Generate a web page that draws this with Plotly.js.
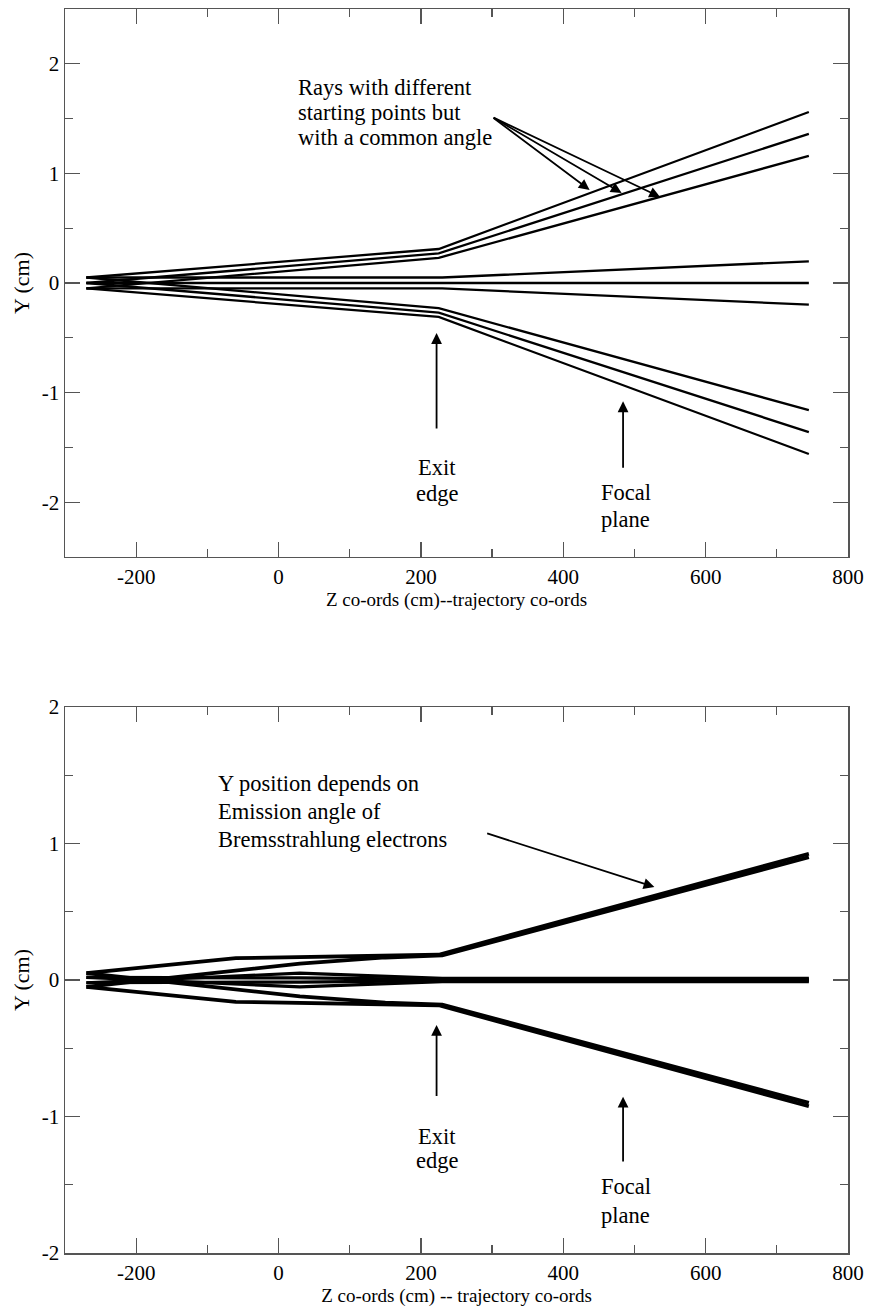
<!DOCTYPE html>
<html>
<head>
<meta charset="utf-8">
<script src="https://cdn.plot.ly/plotly-3.0.1.min.js"></script>
<style>html,body{margin:0;padding:0;background:#fff;}#chart{width:869px;height:1309px;}</style>
</head>
<body>
<div id="chart"></div>
<script>
// ---------- data ----------
// Top panel: three groups of rays (common angle, different starting points)
var zBend = [-270, 0, 225, 745];
var topUp1 = [0.05, 0.193, 0.31, 1.56];
var topUp2 = [0.0, 0.149, 0.27, 1.36];
var topUp3 = [-0.05, 0.104, 0.23, 1.16];
var topLo1 = [-0.05, -0.193, -0.31, -1.56];
var topLo2 = [0.0, -0.149, -0.27, -1.36];
var topLo3 = [0.05, -0.104, -0.23, -1.16];
var zMid = [-270, 230, 745];
var topMid1 = [0.05, 0.05, 0.198];
var topMid2 = [0.0, 0.0, 0.0];
var topMid3 = [-0.05, -0.05, -0.198];

// Bottom panel: rays with different emission angles
var zOuter = [-270, -60, 225, 745];
var botUpA = [0.05, 0.16, 0.185, 0.925];
var botLoA = [-0.05, -0.16, -0.185, -0.925];
var zInner = [-270, 30, 150, 230, 745];
var botUpB = [-0.05, 0.12, 0.165, 0.18, 0.9];
var botLoB = [0.05, -0.12, -0.165, -0.18, -0.9];
var zCore = [-270, 30, 230, 745];
var botMidA = [-0.02, 0.05, 0.012, 0.012];
var botMidB = [0.02, 0.015, 0.004, 0.004];
var botMidC = [-0.02, -0.015, -0.004, -0.004];
var botMidD = [0.02, -0.05, -0.012, -0.012];

// ticks
var xTickVals = [-200, 0, 200, 400, 600, 800];
var xTickText = ['-200', '0', '200', '400', '600', '800'];
var xMinorVals = [-300, -100, 100, 300, 500, 700];
var yTopTickVals = [-2, -1, 0, 1, 2];
var yTopTickText = ['-2', '-1', '0', '1', '2'];
var yTopMinorVals = [-1.5, -0.5, 0.5, 1.5];
var yBotTickVals = [-2, -1, 0, 1, 2];
var yBotTickText = ['-2', '-1', '0', '1', '2'];
var yBotMinorVals = [-1.5, -0.5, 0.5, 1.5];

// annotation texts
var topNoteLines = ['Rays with different', 'starting points but', 'with a common angle'];
var botNoteLines = ['Y position depends on', 'Emission angle of', 'Bremsstrahlung electrons'];
var exitLines = ['Exit', 'edge'];
var focalLines = ['Focal', 'plane'];

// ---------- figure ----------
var FONT = 'Liberation Serif, Times New Roman, serif';
var traces = [];
function ray(z, y, ax, w) {
  traces.push({x: z, y: y, xaxis: ax === 1 ? 'x' : 'x2', yaxis: ax === 1 ? 'y' : 'y2',
    mode: 'lines', line: {color: '#000', width: w}, hoverinfo: 'skip', showlegend: false});
}
[topUp1, topUp2, topUp3, topLo1, topLo2, topLo3].forEach(function (y) { ray(zBend, y, 1, 2.3); });
[topMid1, topMid2, topMid3].forEach(function (y) { ray(zMid, y, 1, 2.3); });
ray(zOuter, botUpA, 2, 3.8); ray(zOuter, botLoA, 2, 3.8);
ray(zInner, botUpB, 2, 3.8); ray(zInner, botLoB, 2, 3.8);
[botMidA, botMidB, botMidC, botMidD].forEach(function (y) { ray(zCore, y, 2, 3.2); });

function xAxis(anchor, title) {
  return {
    domain: [0, 1], anchor: anchor, range: [-300, 800],
    tickmode: 'array', tickvals: xTickVals, ticktext: xTickText,
    ticks: 'inside', ticklen: 15, tickwidth: 1.3, tickcolor: '#555',
    minor: {tickvals: xMinorVals, ticks: 'inside', ticklen: 8, tickwidth: 1.3, tickcolor: '#555'},
    showline: true, linecolor: '#555', linewidth: 1.5, mirror: 'allticks',
    showgrid: false, zeroline: false,
    tickfont: {family: FONT, size: 21, color: '#000'},
    title: {text: title, font: {family: FONT, size: 19, color: '#000'}, standoff: 0}
  };
}
function yAxis(anchor, dom, rng, tv, tt, mv) {
  return {
    domain: dom, anchor: anchor, range: rng,
    tickmode: 'array', tickvals: tv, ticktext: tt,
    ticks: 'inside', ticklen: 15, tickwidth: 1.3, tickcolor: '#555',
    minor: {tickvals: mv, ticks: 'inside', ticklen: 8, tickwidth: 1.3, tickcolor: '#555'},
    showline: true, linecolor: '#555', linewidth: 1.5, mirror: 'allticks',
    showgrid: false, zeroline: false,
    tickfont: {family: FONT, size: 21, color: '#000'},
    title: {text: 'Y (cm)', font: {family: FONT, size: 22, color: '#000'}, standoff: 6}
  };
}

var tfont = {family: FONT, size: 22.5, color: '#000'};
var annotations = [];
function textLine(xr, yr, x, y, txt, anchor) {
  annotations.push({xref: xr, yref: yr, x: x, y: y, xanchor: anchor, yanchor: 'middle',
    showarrow: false, text: txt, font: tfont});
}
function arrow(xr, yr, x, y, ax, ay) {
  annotations.push({xref: xr, yref: yr, axref: xr, ayref: yr, x: x, y: y, ax: ax, ay: ay,
    showarrow: true, arrowhead: 2, arrowsize: 1.2, arrowwidth: 1.8, arrowcolor: '#000', text: ''});
}
// top panel
textLine('x', 'y', 24, 1.781, topNoteLines[0], 'left');
textLine('x', 'y', 24, 1.553, topNoteLines[1], 'left');
textLine('x', 'y', 24, 1.324, topNoteLines[2], 'left');
arrow('x', 'y', 437, 0.849, 300, 1.516);
arrow('x', 'y', 482, 0.822, 300, 1.516);
arrow('x', 'y', 536, 0.785, 300, 1.516);
arrow('x', 'y', 222, -0.457, 222, -1.342);
textLine('x', 'y', 222, -1.680, exitLines[0], 'center');
textLine('x', 'y', 222, -1.918, exitLines[1], 'center');
arrow('x', 'y', 484, -1.08, 484, -1.70);
textLine('x', 'y', 488, -1.909, focalLines[0], 'center');
textLine('x', 'y', 488, -2.155, focalLines[1], 'center');
// bottom panel
textLine('x2', 'y2', -88, 1.436, botNoteLines[0], 'left');
textLine('x2', 'y2', -88, 1.231, botNoteLines[1], 'left');
textLine('x2', 'y2', -88, 1.026, botNoteLines[2], 'left');
arrow('x2', 'y2', 528, 0.681, 291, 1.077);
arrow('x2', 'y2', 222, -0.33, 222, -0.86);
textLine('x2', 'y2', 222, -1.143, exitLines[0], 'center');
textLine('x2', 'y2', 222, -1.326, exitLines[1], 'center');
arrow('x2', 'y2', 484, -0.855, 484, -1.34);
textLine('x2', 'y2', 488, -1.516, focalLines[0], 'center');
textLine('x2', 'y2', 488, -1.722, focalLines[1], 'center');

var layout = {
  width: 869, height: 1309,
  margin: {l: 65, r: 21, t: 9, b: 56},
  paper_bgcolor: '#fff', plot_bgcolor: '#fff',
  showlegend: false,
  font: {family: FONT},
  xaxis: xAxis('y', 'Z co-ords (cm)--trajectory co-ords'),
  yaxis: yAxis('x', [0.5595, 1], [-2.5, 2.5], yTopTickVals, yTopTickText, yTopMinorVals),
  xaxis2: xAxis('y2', 'Z co-ords (cm) -- trajectory co-ords'),
  yaxis2: yAxis('x2', [0, 0.4389], [-2, 2], yBotTickVals, yBotTickText, yBotMinorVals),
  annotations: annotations
};

Plotly.newPlot('chart', traces, layout, {staticPlot: true, displayModeBar: false});
</script>
</body>
</html>
